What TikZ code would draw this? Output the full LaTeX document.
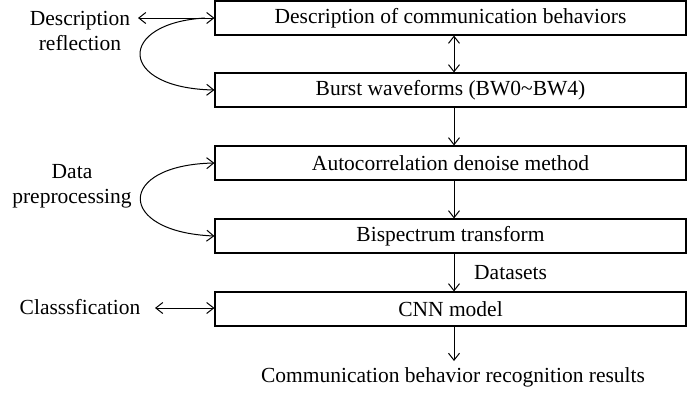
\documentclass[tikz,border=0pt]{standalone}
\usepackage{fontspec}
\setmainfont{Liberation Serif}
\usetikzlibrary{arrows.meta}
\begin{document}
\begin{tikzpicture}[x=1pt,y=-1pt,
  stagebox/.style={draw=black, line width=1.1pt, minimum width=471pt, minimum height=34pt,
    inner sep=0pt, font=\fontsize{21.5}{25}\selectfont},
  sidelabel/.style={align=center, inner sep=0pt, font=\fontsize{21.5}{25}\selectfont},
  plainlabel/.style={inner sep=0pt, font=\fontsize{21.5}{25}\selectfont},
  flow/.style={line width=1pt, -{Straight Barb[length=7pt,width=11pt]}},
  twoway/.style={line width=1pt, {Straight Barb[length=7pt,width=11pt]}-{Straight Barb[length=7pt,width=11pt]}}]
\useasboundingbox (0,0) rectangle (687,400);

% processing stages
\node[stagebox] (b1) at (450.5,18) {Description of communication behaviors};
\node[stagebox] (b2) at (450.5,90) {Burst waveforms (BW0\textasciitilde BW4)};
\node[stagebox] (b3) at (450.5,163) {Autocorrelation denoise method};
\node[stagebox] (b4) at (450.5,236) {Bispectrum transform};
\node[stagebox] (b5) at (450.5,309) {CNN model};
\node[plainlabel] (res) at (453,377) {Communication behavior recognition results};

% vertical axis of the flow
\coordinate (ax) at (454,0);
\draw[twoway] (b1.south -| ax) -- (b2.north -| ax);
\draw[flow] (b2.south -| ax) -- (b3.north -| ax);
\draw[flow] (b3.south -| ax) -- (b4.north -| ax);
\draw[flow] (b4.south -| ax) -- (b5.north -| ax);
\coordinate (resend) at (454,361);
\draw[flow] (b5.south -| ax) -- (resend);
\node[plainlabel, anchor=west] (ds) at (474,273) {Datasets};

% phase labels on the left
\node[sidelabel] (desc) at (80,31) {Description\\reflection};
\node[sidelabel] (prep) at (72,186) {Data\\preprocessing};
\node[plainlabel] (cls) at (80,307) {Classsfication};

\coordinate (d1) at (138,18);
\draw[twoway] (d1) -- (b1.west);
\coordinate (c1) at (155,308);
\draw[twoway] (c1) -- (b5.west |- c1);

% curved brackets joining the stages of a phase
\coordinate (k1) at (205,18);
\draw[flow] (k1) .. controls (117,23) and (117,88) .. (b2.west);
\draw[twoway] (b3.west) .. controls (116,165) and (116,232) .. (b4.west);
\end{tikzpicture}
\end{document}
